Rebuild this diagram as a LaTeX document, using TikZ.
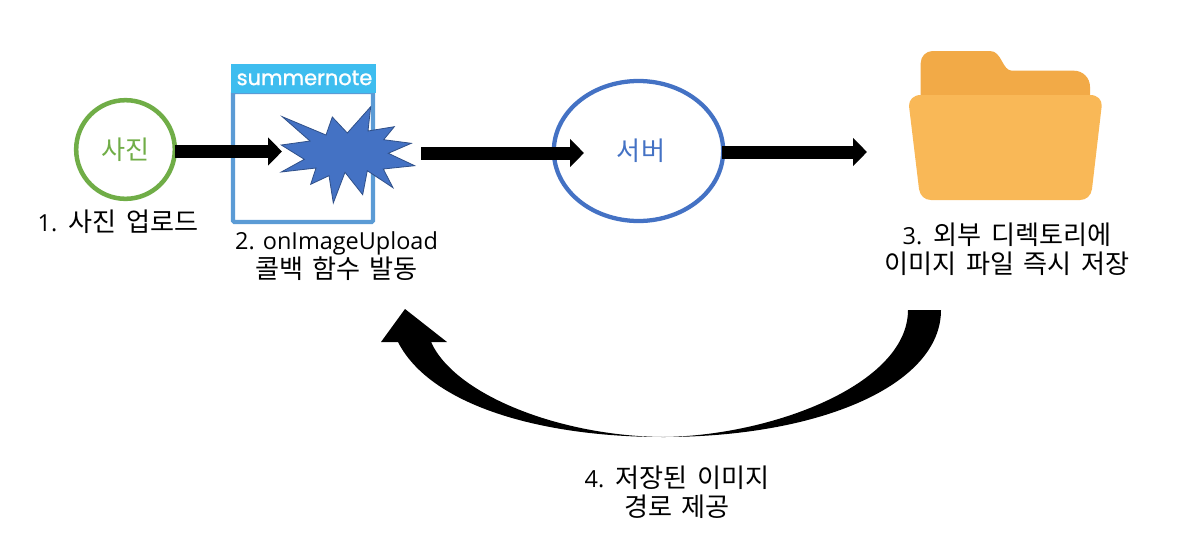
\documentclass[tikz,border=0pt]{standalone}
\usepackage{fontspec}
\setmainfont[WordSpace=1.6]{Noto Sans CJK KR}
\newfontfamily\logofont[FakeBold=1.2]{Poppins}
\newfontfamily\latinpart{Open Sans}
\newcommand{\lat}[1]{{\latinpart\fontsize{17.6pt}{22pt}\selectfont #1}}
\usetikzlibrary{arrows.meta,shapes.geometric}
\definecolor{phgreen}{HTML}{70AD47}
\definecolor{srvblue}{HTML}{4472C4}
\definecolor{frameblue}{HTML}{5B9BD5}
\definecolor{logoblue}{HTML}{3EBDEF}
\definecolor{folderback}{HTML}{F2AA47}
\definecolor{folderfront}{HTML}{F9B857}
\tikzset{
  x=0.75pt,y=-0.75pt,
  blockarrow/.style={line width=9.75pt,-{Triangle[length=10.5pt,width=20.5pt]}},
  label/.style={font=\fontsize{19.6pt}{22pt}\selectfont,align=center,inner sep=0pt,text=black},
  circlab/.style={font=\fontsize{19.6pt}{22pt}\selectfont,inner sep=0pt},
}
\begin{document}
\begin{tikzpicture}
\useasboundingbox (0,0) rectangle (1178,532);
% frame
\draw[frameblue,line width=3.2pt,rounded corners=1pt] (233,92) rectangle (373,222);
\fill[logoblue] (231,64) rectangle (376,93);
\node[text=white,inner sep=0pt,font=\logofont\fontsize{15.7pt}{15.7pt}\selectfont] (logo) at (304.5,78) {summernote};
% burst
\filldraw[srvblue,draw=srvblue!70!black,line width=0.6pt]
 (282.3,116.7)--(326,135)--(332.3,117)--(347.3,133)--(370.7,106.7)--(368,131)--(394.3,126.7)--(383.7,139.7)--(411.3,143.3)--(388.3,153.3)--(414.7,165.7)--(383.3,169)--(393,187.7)--(367.3,170.7)--(362.7,194.7)--(345,172.3)--(333.3,203)--(329,175.7)--(310.7,184.3)--(316,168)--(281.3,172)--(304.3,159.3)--(281.3,145)--(310,141)--cycle;
\coordinate (burstin) at (282,151.5);
\coordinate (burstout) at (421,153);
% nodes
\node[draw=phgreen,line width=3.4pt,circle,minimum size=74pt,inner sep=0pt,text=phgreen,circlab] (photo) at (125.5,149.5) {사진};
\node[draw=srvblue,line width=3.2pt,ellipse,minimum width=127pt,minimum height=105pt,inner sep=0pt] (server) at (638.5,151) {};
\node[text=srvblue,circlab] (servertext) at (641,151) {서버};
% folder
\fill[folderback] (920.7,100) -- (920.7,63) arc[start angle=180,end angle=90,radius=9pt] -- (990,51)
  .. controls (1002,51) and (1002,70.7) .. (1012,70.7) -- (1074,70.7)
  arc[start angle=90,end angle=0,radius=12pt] -- (1090,100) -- cycle;
\fill[folderfront] (921,95) -- (1090,95) .. controls (1098,95) and (1102,100) .. (1101.7,106)
  -- (1092,189) .. controls (1091,196) and (1086,200) .. (1080,200) -- (931,200)
  .. controls (925,200) and (920,196) .. (919,189) -- (909,106) .. controls (909,100) and (913,95) .. (921,95) -- cycle;
\coordinate (folderin) at (867,152);
% arrows
\draw[blockarrow] (photo.east) ++(-2,2) -- (burstin);
\draw[blockarrow] (burstout) -- (584,153) coordinate (serverin);
\draw[blockarrow] (server.east) ++(-3,1) -- (folderin);
% curved
\coordinate (cs1) at (941,310); \coordinate (cs2) at (908,310);
\coordinate (cb) at (663,437);
\coordinate (hl) at (381,342); \coordinate (ht) at (405,309); \coordinate (hr) at (447,342);
\coordinate (il) at (398,342); \coordinate (ir) at (431,342);
\fill[black] (cs1) .. controls (941,385) and (820,437) .. (cb) .. controls (540,437) and (430,405) .. (il)
  -- (hl) -- (ht) -- (hr) -- (ir) .. controls (455,395) and (560,436) .. (cb)
  .. controls (770,436) and (908,385) .. (cs2) -- cycle;
% labels
\node[label] (l1) at (118,222) {\lat{1.} 사진 업로드};
\node[label] (l2) at (336.5,256) {\lat{2. onImageUpload}\\콜백 함수 발동};
\node[label] (l3) at (1007,249) {\lat{3.} 외부 디렉토리에\\이미지 파일 즉시 저장};
\node[label] (l4) at (677,492) {\lat{4.} 저장된 이미지\\경로 제공};
\end{tikzpicture}
\end{document}
